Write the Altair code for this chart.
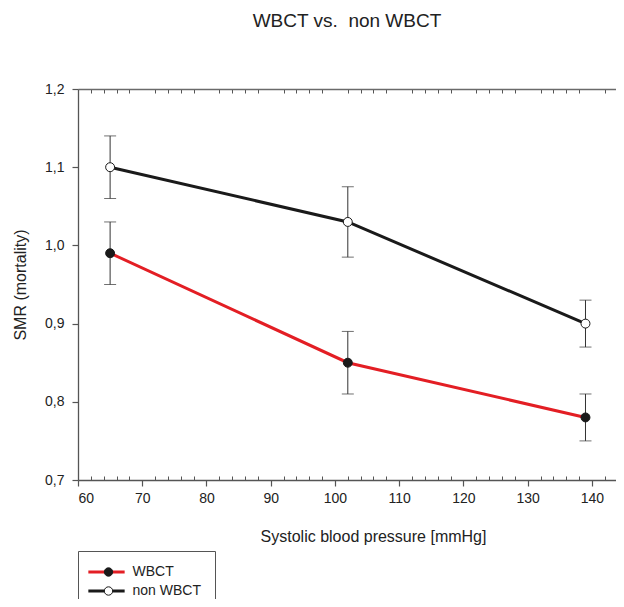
import altair as alt
import pandas as pd

groups = ["WBCT", "non WBCT"]
pressure = [65, 102, 139]
wbct_smr = [0.99, 0.85, 0.78]
wbct_lo = [0.95, 0.81, 0.75]
wbct_hi = [1.03, 0.89, 0.81]
non_smr = [1.10, 1.03, 0.90]
non_lo = [1.06, 0.985, 0.87]
non_hi = [1.14, 1.075, 0.93]

x_major = [60, 70, 80, 90, 100, 110, 120, 130, 140]
x_minor = [62, 64, 66, 68, 72, 74, 76, 78, 82, 84, 86, 88, 92, 94, 96, 98,
           102, 104, 106, 108, 112, 114, 116, 118, 122, 124, 126, 128,
           132, 134, 136, 138, 142]
y_major = [0.7, 0.8, 0.9, 1.0, 1.1, 1.2]

rows = []
for g, m, lo, hi in [("WBCT", wbct_smr, wbct_lo, wbct_hi),
                     ("non WBCT", non_smr, non_lo, non_hi)]:
    for x, v, l, h in zip(pressure, m, lo, hi):
        rows.append({"group": g, "series": g, "x": x, "smr": v, "lo": l, "hi": h})
df = pd.DataFrame(rows)

FONT = "Liberation Sans"
AX = "#555555"
W, H = 538, 391
xdom = [60, 143.75]
ydom = [0.7, 1.2]

xs = alt.Scale(domain=xdom, nice=False, zero=False)
ys = alt.Scale(domain=ydom, nice=False, zero=False)

base = alt.Chart(df)

main_x_axis = alt.Axis(values=x_major, format="d", tickSize=6, tickColor=AX,
                       domainColor=AX, domainWidth=1.3, tickWidth=1.2,
                       labelFontSize=14, labelPadding=5, labelColor="#222",
                       labelFont=FONT, title="Systolic blood pressure [mmHg]",
                       titleFont=FONT, titleFontSize=16, titleFontWeight="normal",
                       titleColor="#222", titlePadding=23, titleX=295, grid=False)
y_axis = alt.Axis(values=y_major, labelExpr="replace(format(datum.value, '.1f'), '.', ',')",
                  tickSize=6, tickColor=AX, tickWidth=1.2, domainColor=AX,
                  domainWidth=1.3, labelFontSize=14, labelPadding=8, labelColor="#222",
                  labelFont=FONT, title="SMR (mortality)", titleFont=FONT,
                  titleFontSize=16, titleFontWeight="normal", titleColor="#222",
                  titlePadding=16, grid=False)
bottom_minor = alt.Axis(orient="top", offset=-H, values=x_minor, tickSize=4,
                        tickColor=AX, tickWidth=1, domain=False, labels=False,
                        title="", grid=False)
top_minor = alt.Axis(orient="bottom", offset=-H, values=x_minor, tickSize=4,
                     tickColor=AX, tickWidth=1, domain=True, domainColor="#6a6a6a",
                     domainWidth=1.3, labels=False, title="", grid=False)

rule = base.mark_rule(color="#333333", strokeWidth=1).encode(
    x=alt.X("x:Q", scale=xs, axis=None),
    y=alt.Y("lo:Q", scale=ys, axis=None),
    y2="hi:Q",
)
cap_lo = base.mark_tick(orient="horizontal", size=12, thickness=1, color="#333333").encode(
    x=alt.X("x:Q", scale=xs, axis=bottom_minor),
    y=alt.Y("lo:Q", scale=ys, axis=None),
)
cap_hi = base.mark_tick(orient="horizontal", size=12, thickness=1, color="#333333").encode(
    x=alt.X("x:Q", scale=xs, axis=top_minor),
    y=alt.Y("hi:Q", scale=ys, axis=None),
)
line = base.mark_line(strokeWidth=3).encode(
    x=alt.X("x:Q", scale=xs, axis=main_x_axis),
    y=alt.Y("smr:Q", scale=ys, axis=y_axis),
    color=alt.Color("group:N", scale=alt.Scale(domain=groups, range=["#e31e24", "#1a1a1a"]),
                    legend=alt.Legend(orient="none", legendX=0, legendY=462, title=None,
                                      symbolType="M-3.3,0H3.3", symbolSize=121,
                                      symbolStrokeWidth=3, symbolOffset=7.5,
                                      labelFontSize=14,
                                      labelFont=FONT, labelColor="#222", labelOffset=19,
                                      strokeColor=AX, padding=14, rowPadding=5)),
)
points = base.mark_point(filled=True, size=80, stroke="#1a1a1a", strokeWidth=1, opacity=1).encode(
    x=alt.X("x:Q", scale=xs, axis=None),
    y=alt.Y("smr:Q", scale=ys, axis=None),
    fill=alt.Fill("series:N", scale=alt.Scale(range=["#1a1a1a", "#ffffff"]),
                  legend=alt.Legend(orient="none", legendX=0, legendY=462, title=None,
                                    symbolType="circle", symbolSize=70, symbolOffset=9.5,
                                    symbolStrokeColor="#1a1a1a", symbolStrokeWidth=1,
                                    labelFontSize=14, labelFont=FONT, labelExpr="' '",
                                    padding=14, rowPadding=5)),
)

chart = alt.layer(rule, cap_lo, cap_hi, line, points).resolve_axis(
    x="independent", y="independent"
).properties(
    width=W, height=H,
    title=alt.TitleParams("WBCT vs.\u00a0 non WBCT", font=FONT, fontSize=19,
                          fontWeight="normal", color="#222", offset=51, anchor="middle"),
    autosize=alt.AutoSizeParams(type="none"),
    padding={"left": 70, "top": 81, "right": 0, "bottom": 119},
).configure_view(stroke="transparent")

chart.save("out.html", embed_options={"renderer": "svg", "actions": False})
